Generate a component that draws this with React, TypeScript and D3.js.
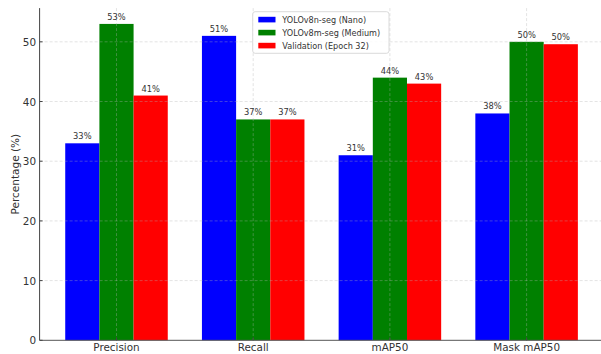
import React from "react";
import * as d3 from "d3";

// Metric groups along the x axis
const categories = ["Precision", "Recall", "mAP50", "Mask mAP50"];

// Series (percent values per metric)
const seriesNames = ["YOLOv8n-seg (Nano)", "YOLOv8m-seg (Medium)", "Validation (Epoch 32)"];
const nanoValues = [33, 51, 31, 38];
const mediumValues = [53, 37, 44, 50];
const validationValues = [41, 37, 43, 49.6];
const seriesColors = ["#0000ff", "#008000", "#ff0000"];

const yTicks = [0, 10, 20, 30, 40, 50];

const W = 601;
const H = 354;
const FONT = "'DejaVu Sans', sans-serif";

export default function App() {
  const series = [nanoValues, mediumValues, validationValues];
  const barWidth = 0.25;
  const yMax = d3.max(series.flat())! * 1.05;

  const x = d3.scaleLinear().domain([-0.5625, 3.5625]).range([39.6, 603.5]);
  const y = d3.scaleLinear().domain([0, yMax]).range([340.3, 8.1]);
  const fmt = (v: number) => `${v.toFixed(0)}%`;

  const left = x(-0.5625);
  const bottom = y(0);
  const top = y(yMax);

  return (
    <svg
      width={W}
      height={H}
      style={{ position: "absolute", left: 0, top: 0, background: "#fff" }}
      fontFamily={FONT}
    >
      {/* bars */}
      {series.map((vals, s) =>
        vals.map((v, i) => {
          const cx = i + (s - 1) * barWidth;
          const x0 = x(cx - barWidth / 2);
          const x1 = x(cx + barWidth / 2);
          return (
            <rect
              key={`b-${s}-${i}`}
              x={x0}
              y={y(v)}
              width={x1 - x0}
              height={bottom - y(v)}
              fill={seriesColors[s]}
            />
          );
        })
      )}

      {/* grid */}
      <g stroke="#b0b0b0" strokeOpacity={0.45} strokeDasharray="3,2" strokeWidth={0.8}>
        {yTicks.filter((t) => t > 0).map((t) => (
          <line key={`gy-${t}`} x1={left} x2={W} y1={y(t)} y2={y(t)} />
        ))}
        {categories.map((c, i) => (
          <line key={`gx-${c}`} x1={x(i)} x2={x(i)} y1={top} y2={bottom} />
        ))}
      </g>

      {/* value labels */}
      {series.map((vals, s) =>
        vals.map((v, i) => {
          const cx = i + (s - 1) * barWidth;
          return (
            <text
              key={`l-${s}-${i}`}
              x={x(cx)}
              y={y(v) - 4}
              textAnchor="middle"
              fontSize={8.3}
              fill="#333"
            >
              {fmt(v)}
            </text>
          );
        })
      )}

      {/* axes */}
      <line x1={left} x2={left} y1={top} y2={bottom} stroke="#444" strokeWidth={1} />
      <line x1={left} x2={W} y1={bottom} y2={bottom} stroke="#555" strokeWidth={1} />
      {yTicks.map((t) => (
        <g key={`ty-${t}`}>
          <line x1={left} x2={left + 3} y1={y(t)} y2={y(t)} stroke="#444" />
          <text
            x={left - 3.5}
            y={y(t)}
            textAnchor="end"
            dominantBaseline="central"
            fontSize={10.4}
            fill="#333"
          >
            {t}
          </text>
        </g>
      ))}
      {categories.map((c, i) => (
        <g key={`tx-${c}`}>
          <line x1={x(i)} x2={x(i)} y1={bottom} y2={bottom - 3} stroke="#444" />
          <text x={x(i)} y={350.5} textAnchor="middle" fontSize={10.4} fill="#333">
            {c}
          </text>
        </g>
      ))}
      <text
        transform={`translate(15,${(top + bottom) / 2}) rotate(-90)`}
        textAnchor="middle"
        dominantBaseline="central"
        fontSize={10.5}
        fill="#333"
      >
        Percentage (%)
      </text>

      {/* legend */}
      <g>
        <rect
          x={252.7}
          y={11.7}
          width={136.3}
          height={41.6}
          rx={2.5}
          fill="#fff"
          fillOpacity={0.85}
          stroke="#d0d0d0"
          strokeWidth={0.8}
        />
        {seriesNames.map((name, s) => (
          <g key={`lg-${s}`}>
            <rect x={258.3} y={16.8 + s * 13} width={17.2} height={5.6} fill={seriesColors[s]} />
            <text x={282.3} y={19.6 + s * 13} dominantBaseline="central" fontSize={8.1} fill="#333">
              {name}
            </text>
          </g>
        ))}
      </g>
    </svg>
  );
}
